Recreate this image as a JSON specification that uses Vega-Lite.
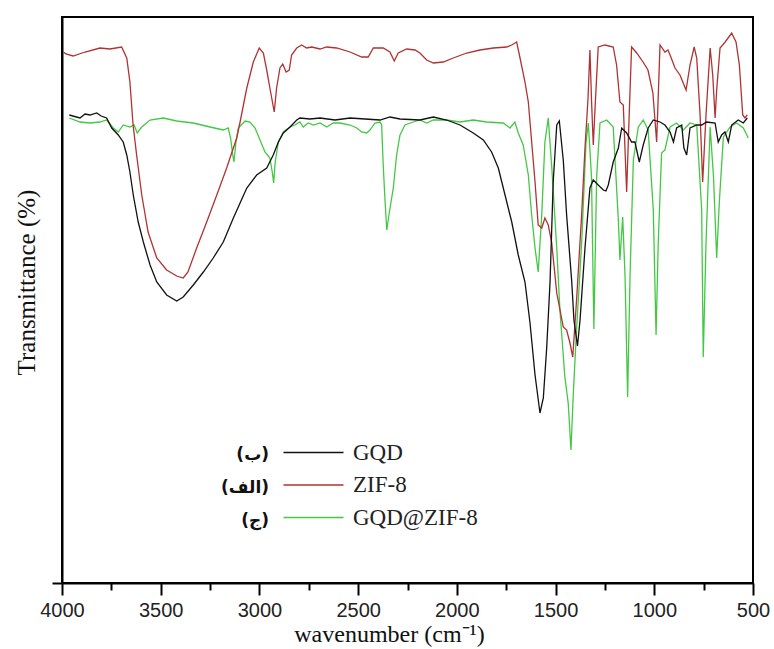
{
  "$schema": "https://vega.github.io/schema/vega-lite/v6.json",
  "width": 691,
  "height": 566,
  "autosize": "none",
  "padding": {"left": 62, "top": 17, "right": 21, "bottom": 66},
  "background": "white",
  "config": {
    "view": {"stroke": "#000", "strokeWidth": 2},
    "axis": {"grid": false, "domainColor": "#000", "tickColor": "#000", "domainWidth": 2, "tickWidth": 2}
  },
  "datasets": {
    "spectra": [
      {"s":"GQD@ZIF-8","w":3963,"t":465},{"s":"GQD@ZIF-8","w":3909,"t":461},{"s":"GQD@ZIF-8","w":3858,"t":460},{"s":"GQD@ZIF-8","w":3808,"t":461},{"s":"GQD@ZIF-8","w":3774,"t":463},{"s":"GQD@ZIF-8","w":3740,"t":455},{"s":"GQD@ZIF-8","w":3715,"t":451},{"s":"GQD@ZIF-8","w":3690,"t":458},{"s":"GQD@ZIF-8","w":3656,"t":456},{"s":"GQD@ZIF-8","w":3635,"t":458},{"s":"GQD@ZIF-8","w":3619,"t":450},{"s":"GQD@ZIF-8","w":3596,"t":456},{"s":"GQD@ZIF-8","w":3554,"t":463},{"s":"GQD@ZIF-8","w":3487,"t":465},{"s":"GQD@ZIF-8","w":3419,"t":462},{"s":"GQD@ZIF-8","w":3335,"t":460},{"s":"GQD@ZIF-8","w":3250,"t":456},{"s":"GQD@ZIF-8","w":3183,"t":453},{"s":"GQD@ZIF-8","w":3158,"t":455},{"s":"GQD@ZIF-8","w":3146,"t":445},{"s":"GQD@ZIF-8","w":3135,"t":428},{"s":"GQD@ZIF-8","w":3129,"t":421},{"s":"GQD@ZIF-8","w":3119,"t":441},{"s":"GQD@ZIF-8","w":3107,"t":455},{"s":"GQD@ZIF-8","w":3073,"t":462},{"s":"GQD@ZIF-8","w":3048,"t":461},{"s":"GQD@ZIF-8","w":3022,"t":455},{"s":"GQD@ZIF-8","w":2997,"t":443},{"s":"GQD@ZIF-8","w":2972,"t":431},{"s":"GQD@ZIF-8","w":2947,"t":425},{"s":"GQD@ZIF-8","w":2935,"t":411},{"s":"GQD@ZIF-8","w":2928,"t":400},{"s":"GQD@ZIF-8","w":2920,"t":421},{"s":"GQD@ZIF-8","w":2904,"t":441},{"s":"GQD@ZIF-8","w":2879,"t":451},{"s":"GQD@ZIF-8","w":2845,"t":456},{"s":"GQD@ZIF-8","w":2820,"t":458},{"s":"GQD@ZIF-8","w":2795,"t":461},{"s":"GQD@ZIF-8","w":2778,"t":456},{"s":"GQD@ZIF-8","w":2753,"t":460},{"s":"GQD@ZIF-8","w":2727,"t":458},{"s":"GQD@ZIF-8","w":2693,"t":460},{"s":"GQD@ZIF-8","w":2659,"t":456},{"s":"GQD@ZIF-8","w":2626,"t":460},{"s":"GQD@ZIF-8","w":2592,"t":460},{"s":"GQD@ZIF-8","w":2541,"t":458},{"s":"GQD@ZIF-8","w":2507,"t":455},{"s":"GQD@ZIF-8","w":2482,"t":451},{"s":"GQD@ZIF-8","w":2457,"t":450},{"s":"GQD@ZIF-8","w":2440,"t":453},{"s":"GQD@ZIF-8","w":2415,"t":460},{"s":"GQD@ZIF-8","w":2389,"t":461},{"s":"GQD@ZIF-8","w":2381,"t":458},{"s":"GQD@ZIF-8","w":2373,"t":418},{"s":"GQD@ZIF-8","w":2364,"t":383},{"s":"GQD@ZIF-8","w":2355,"t":353},{"s":"GQD@ZIF-8","w":2344,"t":368},{"s":"GQD@ZIF-8","w":2322,"t":395},{"s":"GQD@ZIF-8","w":2305,"t":428},{"s":"GQD@ZIF-8","w":2288,"t":448},{"s":"GQD@ZIF-8","w":2263,"t":458},{"s":"GQD@ZIF-8","w":2221,"t":461},{"s":"GQD@ZIF-8","w":2187,"t":463},{"s":"GQD@ZIF-8","w":2153,"t":460},{"s":"GQD@ZIF-8","w":2119,"t":463},{"s":"GQD@ZIF-8","w":2052,"t":463},{"s":"GQD@ZIF-8","w":1984,"t":461},{"s":"GQD@ZIF-8","w":1917,"t":463},{"s":"GQD@ZIF-8","w":1849,"t":461},{"s":"GQD@ZIF-8","w":1765,"t":460},{"s":"GQD@ZIF-8","w":1731,"t":455},{"s":"GQD@ZIF-8","w":1706,"t":461},{"s":"GQD@ZIF-8","w":1689,"t":450},{"s":"GQD@ZIF-8","w":1664,"t":438},{"s":"GQD@ZIF-8","w":1638,"t":408},{"s":"GQD@ZIF-8","w":1621,"t":368},{"s":"GQD@ZIF-8","w":1604,"t":335},{"s":"GQD@ZIF-8","w":1588,"t":311},{"s":"GQD@ZIF-8","w":1570,"t":368},{"s":"GQD@ZIF-8","w":1554,"t":441},{"s":"GQD@ZIF-8","w":1537,"t":465},{"s":"GQD@ZIF-8","w":1520,"t":418},{"s":"GQD@ZIF-8","w":1494,"t":335},{"s":"GQD@ZIF-8","w":1478,"t":273},{"s":"GQD@ZIF-8","w":1453,"t":206},{"s":"GQD@ZIF-8","w":1436,"t":180},{"s":"GQD@ZIF-8","w":1422,"t":133},{"s":"GQD@ZIF-8","w":1410,"t":190},{"s":"GQD@ZIF-8","w":1393,"t":256},{"s":"GQD@ZIF-8","w":1368,"t":340},{"s":"GQD@ZIF-8","w":1346,"t":440},{"s":"GQD@ZIF-8","w":1334,"t":460},{"s":"GQD@ZIF-8","w":1318,"t":406},{"s":"GQD@ZIF-8","w":1306,"t":254},{"s":"GQD@ZIF-8","w":1292,"t":406},{"s":"GQD@ZIF-8","w":1275,"t":460},{"s":"GQD@ZIF-8","w":1241,"t":463},{"s":"GQD@ZIF-8","w":1208,"t":456},{"s":"GQD@ZIF-8","w":1182,"t":363},{"s":"GQD@ZIF-8","w":1174,"t":323},{"s":"GQD@ZIF-8","w":1160,"t":366},{"s":"GQD@ZIF-8","w":1148,"t":306},{"s":"GQD@ZIF-8","w":1135,"t":186},{"s":"GQD@ZIF-8","w":1123,"t":306},{"s":"GQD@ZIF-8","w":1106,"t":423},{"s":"GQD@ZIF-8","w":1081,"t":456},{"s":"GQD@ZIF-8","w":1056,"t":463},{"s":"GQD@ZIF-8","w":1031,"t":453},{"s":"GQD@ZIF-8","w":1005,"t":373},{"s":"GQD@ZIF-8","w":991,"t":248},{"s":"GQD@ZIF-8","w":980,"t":340},{"s":"GQD@ZIF-8","w":963,"t":430},{"s":"GQD@ZIF-8","w":946,"t":433},{"s":"GQD@ZIF-8","w":920,"t":456},{"s":"GQD@ZIF-8","w":887,"t":460},{"s":"GQD@ZIF-8","w":853,"t":453},{"s":"GQD@ZIF-8","w":819,"t":460},{"s":"GQD@ZIF-8","w":785,"t":458},{"s":"GQD@ZIF-8","w":760,"t":373},{"s":"GQD@ZIF-8","w":752,"t":226},{"s":"GQD@ZIF-8","w":738,"t":340},{"s":"GQD@ZIF-8","w":717,"t":456},{"s":"GQD@ZIF-8","w":700,"t":406},{"s":"GQD@ZIF-8","w":684,"t":325},{"s":"GQD@ZIF-8","w":670,"t":383},{"s":"GQD@ZIF-8","w":650,"t":446},{"s":"GQD@ZIF-8","w":616,"t":456},{"s":"GQD@ZIF-8","w":583,"t":460},{"s":"GQD@ZIF-8","w":549,"t":455},{"s":"GQD@ZIF-8","w":524,"t":445},

      {"s":"ZIF-8","w":3993,"t":531},{"s":"ZIF-8","w":3980,"t":529},{"s":"ZIF-8","w":3944,"t":527},{"s":"ZIF-8","w":3883,"t":531},{"s":"ZIF-8","w":3808,"t":535},{"s":"ZIF-8","w":3757,"t":534},{"s":"ZIF-8","w":3698,"t":536},{"s":"ZIF-8","w":3672,"t":525},{"s":"ZIF-8","w":3656,"t":501},{"s":"ZIF-8","w":3640,"t":458},{"s":"ZIF-8","w":3622,"t":428},{"s":"ZIF-8","w":3596,"t":388},{"s":"ZIF-8","w":3564,"t":351},{"s":"ZIF-8","w":3520,"t":325},{"s":"ZIF-8","w":3470,"t":313},{"s":"ZIF-8","w":3419,"t":307},{"s":"ZIF-8","w":3386,"t":305},{"s":"ZIF-8","w":3362,"t":311},{"s":"ZIF-8","w":3318,"t":335},{"s":"ZIF-8","w":3267,"t":361},{"s":"ZIF-8","w":3216,"t":388},{"s":"ZIF-8","w":3166,"t":415},{"s":"ZIF-8","w":3115,"t":445},{"s":"ZIF-8","w":3098,"t":461},{"s":"ZIF-8","w":3064,"t":495},{"s":"ZIF-8","w":3031,"t":521},{"s":"ZIF-8","w":3001,"t":535},{"s":"ZIF-8","w":2980,"t":530},{"s":"ZIF-8","w":2963,"t":513},{"s":"ZIF-8","w":2947,"t":495},{"s":"ZIF-8","w":2925,"t":471},{"s":"ZIF-8","w":2913,"t":495},{"s":"ZIF-8","w":2896,"t":515},{"s":"ZIF-8","w":2882,"t":519},{"s":"ZIF-8","w":2865,"t":511},{"s":"ZIF-8","w":2849,"t":513},{"s":"ZIF-8","w":2837,"t":528},{"s":"ZIF-8","w":2811,"t":535},{"s":"ZIF-8","w":2786,"t":538},{"s":"ZIF-8","w":2761,"t":535},{"s":"ZIF-8","w":2735,"t":536},{"s":"ZIF-8","w":2693,"t":534},{"s":"ZIF-8","w":2659,"t":536},{"s":"ZIF-8","w":2609,"t":535},{"s":"ZIF-8","w":2541,"t":531},{"s":"ZIF-8","w":2482,"t":526},{"s":"ZIF-8","w":2449,"t":526},{"s":"ZIF-8","w":2423,"t":535},{"s":"ZIF-8","w":2373,"t":535},{"s":"ZIF-8","w":2339,"t":531},{"s":"ZIF-8","w":2317,"t":522},{"s":"ZIF-8","w":2297,"t":530},{"s":"ZIF-8","w":2254,"t":534},{"s":"ZIF-8","w":2212,"t":533},{"s":"ZIF-8","w":2187,"t":530},{"s":"ZIF-8","w":2153,"t":523},{"s":"ZIF-8","w":2119,"t":520},{"s":"ZIF-8","w":2069,"t":521},{"s":"ZIF-8","w":2018,"t":525},{"s":"ZIF-8","w":1950,"t":530},{"s":"ZIF-8","w":1883,"t":533},{"s":"ZIF-8","w":1815,"t":535},{"s":"ZIF-8","w":1748,"t":536},{"s":"ZIF-8","w":1722,"t":538},{"s":"ZIF-8","w":1697,"t":541},{"s":"ZIF-8","w":1680,"t":525},{"s":"ZIF-8","w":1655,"t":501},{"s":"ZIF-8","w":1638,"t":481},{"s":"ZIF-8","w":1621,"t":441},{"s":"ZIF-8","w":1604,"t":401},{"s":"ZIF-8","w":1588,"t":358},{"s":"ZIF-8","w":1570,"t":355},{"s":"ZIF-8","w":1554,"t":365},{"s":"ZIF-8","w":1537,"t":358},{"s":"ZIF-8","w":1520,"t":341},{"s":"ZIF-8","w":1494,"t":290},{"s":"ZIF-8","w":1461,"t":256},{"s":"ZIF-8","w":1444,"t":253},{"s":"ZIF-8","w":1427,"t":240},{"s":"ZIF-8","w":1413,"t":226},{"s":"ZIF-8","w":1393,"t":285},{"s":"ZIF-8","w":1368,"t":368},{"s":"ZIF-8","w":1351,"t":435},{"s":"ZIF-8","w":1336,"t":483},{"s":"ZIF-8","w":1326,"t":533},{"s":"ZIF-8","w":1318,"t":483},{"s":"ZIF-8","w":1309,"t":438},{"s":"ZIF-8","w":1298,"t":483},{"s":"ZIF-8","w":1284,"t":536},{"s":"ZIF-8","w":1250,"t":538},{"s":"ZIF-8","w":1208,"t":536},{"s":"ZIF-8","w":1191,"t":518},{"s":"ZIF-8","w":1174,"t":481},{"s":"ZIF-8","w":1157,"t":478},{"s":"ZIF-8","w":1140,"t":391},{"s":"ZIF-8","w":1128,"t":463},{"s":"ZIF-8","w":1115,"t":536},{"s":"ZIF-8","w":1089,"t":530},{"s":"ZIF-8","w":1057,"t":521},{"s":"ZIF-8","w":1032,"t":513},{"s":"ZIF-8","w":1007,"t":490},{"s":"ZIF-8","w":988,"t":441},{"s":"ZIF-8","w":971,"t":538},{"s":"ZIF-8","w":946,"t":531},{"s":"ZIF-8","w":931,"t":533},{"s":"ZIF-8","w":920,"t":528},{"s":"ZIF-8","w":895,"t":515},{"s":"ZIF-8","w":870,"t":508},{"s":"ZIF-8","w":839,"t":493},{"s":"ZIF-8","w":819,"t":518},{"s":"ZIF-8","w":798,"t":536},{"s":"ZIF-8","w":785,"t":525},{"s":"ZIF-8","w":768,"t":468},{"s":"ZIF-8","w":755,"t":401},{"s":"ZIF-8","w":738,"t":468},{"s":"ZIF-8","w":717,"t":535},{"s":"ZIF-8","w":704,"t":508},{"s":"ZIF-8","w":692,"t":465},{"s":"ZIF-8","w":684,"t":493},{"s":"ZIF-8","w":667,"t":535},{"s":"ZIF-8","w":641,"t":541},{"s":"ZIF-8","w":608,"t":550},{"s":"ZIF-8","w":586,"t":541},{"s":"ZIF-8","w":569,"t":518},{"s":"ZIF-8","w":552,"t":468},{"s":"ZIF-8","w":541,"t":465},{"s":"ZIF-8","w":529,"t":468},

      {"s":"GQD","w":3963,"t":468},{"s":"GQD","w":3909,"t":465},{"s":"GQD","w":3883,"t":469},{"s":"GQD","w":3858,"t":468},{"s":"GQD","w":3824,"t":470},{"s":"GQD","w":3802,"t":467},{"s":"GQD","w":3774,"t":465},{"s":"GQD","w":3748,"t":455},{"s":"GQD","w":3715,"t":448},{"s":"GQD","w":3690,"t":441},{"s":"GQD","w":3672,"t":428},{"s":"GQD","w":3656,"t":411},{"s":"GQD","w":3639,"t":388},{"s":"GQD","w":3614,"t":361},{"s":"GQD","w":3588,"t":341},{"s":"GQD","w":3554,"t":318},{"s":"GQD","w":3520,"t":301},{"s":"GQD","w":3470,"t":288},{"s":"GQD","w":3419,"t":282},{"s":"GQD","w":3386,"t":286},{"s":"GQD","w":3335,"t":298},{"s":"GQD","w":3284,"t":311},{"s":"GQD","w":3234,"t":325},{"s":"GQD","w":3183,"t":341},{"s":"GQD","w":3132,"t":365},{"s":"GQD","w":3098,"t":380},{"s":"GQD","w":3064,"t":395},{"s":"GQD","w":3014,"t":408},{"s":"GQD","w":2963,"t":415},{"s":"GQD","w":2930,"t":428},{"s":"GQD","w":2904,"t":441},{"s":"GQD","w":2879,"t":450},{"s":"GQD","w":2845,"t":456},{"s":"GQD","w":2811,"t":463},{"s":"GQD","w":2795,"t":465},{"s":"GQD","w":2744,"t":464},{"s":"GQD","w":2693,"t":465},{"s":"GQD","w":2617,"t":463},{"s":"GQD","w":2541,"t":465},{"s":"GQD","w":2465,"t":464},{"s":"GQD","w":2389,"t":463},{"s":"GQD","w":2339,"t":466},{"s":"GQD","w":2288,"t":464},{"s":"GQD","w":2187,"t":463},{"s":"GQD","w":2119,"t":466},{"s":"GQD","w":2052,"t":463},{"s":"GQD","w":1984,"t":458},{"s":"GQD","w":1917,"t":450},{"s":"GQD","w":1866,"t":443},{"s":"GQD","w":1824,"t":431},{"s":"GQD","w":1790,"t":415},{"s":"GQD","w":1756,"t":388},{"s":"GQD","w":1722,"t":361},{"s":"GQD","w":1689,"t":328},{"s":"GQD","w":1655,"t":301},{"s":"GQD","w":1630,"t":261},{"s":"GQD","w":1604,"t":208},{"s":"GQD","w":1579,"t":170},{"s":"GQD","w":1562,"t":185},{"s":"GQD","w":1545,"t":235},{"s":"GQD","w":1528,"t":301},{"s":"GQD","w":1512,"t":401},{"s":"GQD","w":1494,"t":458},{"s":"GQD","w":1481,"t":462},{"s":"GQD","w":1461,"t":423},{"s":"GQD","w":1444,"t":368},{"s":"GQD","w":1418,"t":301},{"s":"GQD","w":1407,"t":263},{"s":"GQD","w":1389,"t":237},{"s":"GQD","w":1376,"t":263},{"s":"GQD","w":1351,"t":335},{"s":"GQD","w":1326,"t":395},{"s":"GQD","w":1309,"t":403},{"s":"GQD","w":1284,"t":398},{"s":"GQD","w":1258,"t":393},{"s":"GQD","w":1245,"t":392},{"s":"GQD","w":1233,"t":398},{"s":"GQD","w":1208,"t":421},{"s":"GQD","w":1182,"t":435},{"s":"GQD","w":1165,"t":455},{"s":"GQD","w":1140,"t":450},{"s":"GQD","w":1115,"t":441},{"s":"GQD","w":1098,"t":441},{"s":"GQD","w":1076,"t":421},{"s":"GQD","w":1056,"t":438},{"s":"GQD","w":1031,"t":455},{"s":"GQD","w":1005,"t":463},{"s":"GQD","w":971,"t":461},{"s":"GQD","w":946,"t":458},{"s":"GQD","w":920,"t":451},{"s":"GQD","w":903,"t":441},{"s":"GQD","w":887,"t":455},{"s":"GQD","w":861,"t":458},{"s":"GQD","w":850,"t":435},{"s":"GQD","w":836,"t":428},{"s":"GQD","w":819,"t":455},{"s":"GQD","w":785,"t":458},{"s":"GQD","w":760,"t":458},{"s":"GQD","w":735,"t":461},{"s":"GQD","w":692,"t":460},{"s":"GQD","w":676,"t":441},{"s":"GQD","w":659,"t":448},{"s":"GQD","w":642,"t":451},{"s":"GQD","w":625,"t":441},{"s":"GQD","w":608,"t":458},{"s":"GQD","w":575,"t":463},{"s":"GQD","w":549,"t":460},{"s":"GQD","w":529,"t":465}
    ],
    "tags": [{"fa": "(ب)"}, {"fa": "(الف)"}, {"fa": "(ج)"}]
  },
  "layer": [
    {
      "data": {"name": "spectra"},
      "mark": {"type": "line", "strokeWidth": 1.3, "interpolate": "linear"},
      "encoding": {
        "x": {
          "field": "w", "type": "quantitative",
          "scale": {"domain": [500, 4000], "reverse": true, "nice": false, "zero": false},
          "axis": {
            "values": [4000, 3750, 3500, 3250, 3000, 2750, 2500, 2250, 2000, 1750, 1500, 1250, 1000, 750, 500],
            "format": "d",
            "labelExpr": "datum.value % 500 === 0 ? datum.label : ''",
            "labelOverlap": false,
            "labelFlush": false,
            "tickSize": {"condition": {"test": "datum.value % 500 === 0", "value": 12}, "value": 7},
            "labelPadding": 5,
            "labelFont": "Liberation Sans",
            "labelFontSize": 20,
            "labelColor": "#222",
            "title": "wavenumber (cm⁻¹)",
            "titleFont": "Liberation Serif",
            "titleFontSize": 24,
            "titleFontWeight": "normal",
            "titleColor": "#111",
            "titleX": 327,
            "titleY": 58,
            "titleBaseline": "alphabetic",
            "titleAlign": "center"
          }
        },
        "y": {
          "field": "t", "type": "quantitative",
          "scale": {"domain": [0, 566], "nice": false, "zero": true},
          "axis": {
            "values": [0],
            "labels": false,
            "tickSize": 10,
            "title": "Transmittance (%)",
            "titleFont": "Liberation Serif",
            "titleFontSize": 25,
            "titleFontWeight": "normal",
            "titleColor": "#111",
            "titleX": -36,
            "titleY": 265,
            "titleAngle": -90,
            "titleAlign": "center",
            "titleBaseline": "middle"
          }
        },
        "stroke": {
          "field": "s", "type": "nominal",
          "scale": {"domain": ["GQD", "ZIF-8", "GQD@ZIF-8"], "range": ["#111111", "#b03232", "#44c844"]},
          "legend": {
            "orient": "none",
            "legendX": 215,
            "legendY": 424,
            "title": null,
            "padding": 0,
            "symbolType": "M-6,0H6",
            "symbolSize": 100,
            "symbolStrokeWidth": 1.5,
            "symbolOffset": 25,
            "labelOffset": 28,
            "labelFont": "Liberation Serif",
            "labelFontSize": 23,
            "labelColor": "#222",
            "rowPadding": 8.5
          }
        }
      }
    },
    {
      "data": {"name": "tags"},
      "mark": {"type": "point", "opacity": 0},
      "encoding": {
        "shape": {
          "field": "fa", "type": "nominal",
          "scale": {"domain": ["(ب)", "(الف)", "(ج)"], "range": ["circle", "circle", "circle"]},
          "legend": {
            "orient": "none",
            "legendX": 190,
            "legendY": 429,
            "title": null,
            "padding": 0,
            "symbolSize": 100,
            "symbolOpacity": 0,
            "labelOffset": 0,
            "labelAlign": "right",
            "labelFont": "DejaVu Sans",
            "labelFontWeight": "bold",
            "labelFontSize": 17,
            "labelColor": "#111",
            "rowPadding": 15
          }
        }
      }
    }
  ]
}
